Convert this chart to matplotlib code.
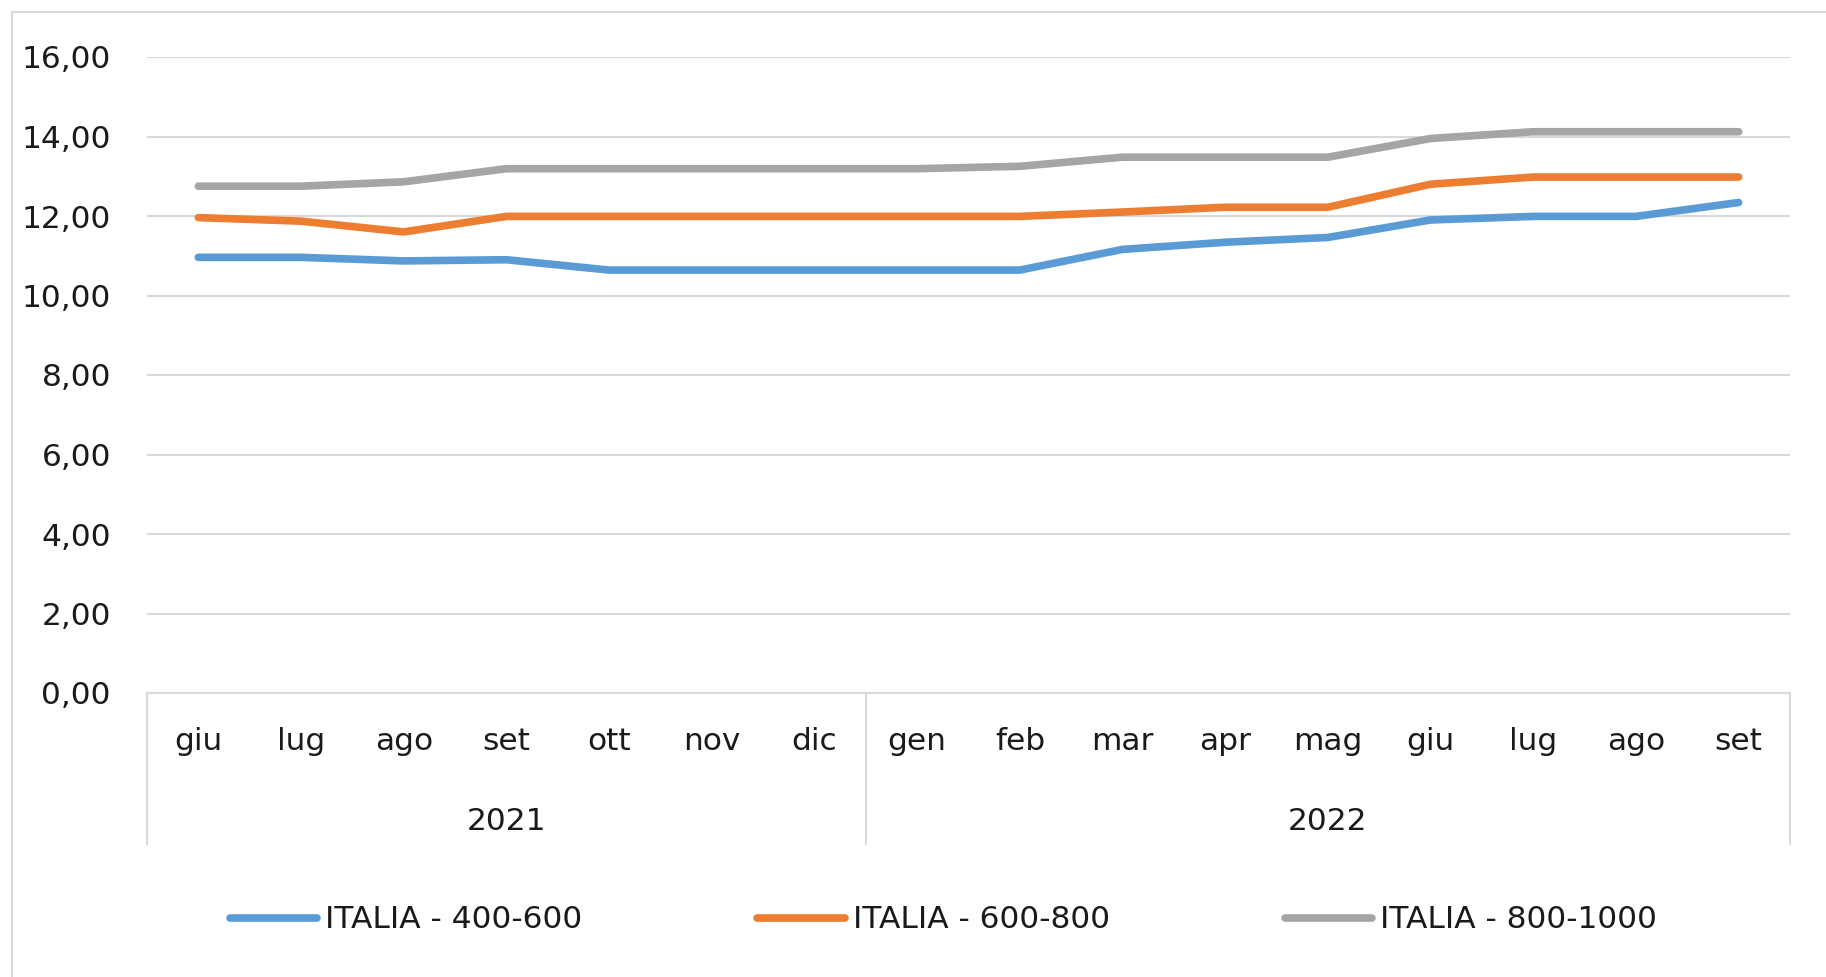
import matplotlib.pyplot as plt
from matplotlib.patches import Rectangle
from matplotlib.ticker import FuncFormatter, MultipleLocator

plt.rcParams['font.family'] = ['DejaVu Sans']

months = ['giu', 'lug', 'ago', 'set', 'ott', 'nov', 'dic',
          'gen', 'feb', 'mar', 'apr', 'mag', 'giu', 'lug', 'ago', 'set']
years = ['2021', '2022']
year_len = [7, 9]

s400 = [10.96, 10.96, 10.87, 10.90, 10.64, 10.64, 10.64, 10.64,
        10.64, 11.16, 11.34, 11.46, 11.90, 11.99, 11.99, 12.34]
s600 = [11.96, 11.87, 11.60, 11.99, 11.99, 11.99, 11.99, 11.99,
        11.99, 12.10, 12.22, 12.22, 12.80, 12.98, 12.98, 12.98]
s800 = [12.75, 12.75, 12.86, 13.19, 13.19, 13.19, 13.19, 13.19,
        13.25, 13.48, 13.48, 13.48, 13.95, 14.12, 14.12, 14.12]

series = [('ITALIA - 400-600', s400, '#5b9bd5'),
          ('ITALIA - 600-800', s600, '#ed7d31'),
          ('ITALIA - 800-1000', s800, '#a5a5a5')]

FS = 22.5
TXT = '#1a1a1a'

W, H = 1826, 977
fig = plt.figure(figsize=(W / 100, H / 100), dpi=100)
# plot area in pixels
left, right, top, bottom = 147, 1790, 57, 693
ax = fig.add_axes([left / W, 1 - bottom / H, (right - left) / W, (bottom - top) / H])

# chart border
fig.patches.append(Rectangle((12 / W, -0.1), 1.2, 1 - 12 / H + 0.1, transform=fig.transFigure,
                             fill=False, edgecolor='#d9d9d9', linewidth=1.5))

x = list(range(len(months)))
for lab, vals, col in series:
    ax.plot(x, vals, color=col, linewidth=5.5, label=lab, solid_capstyle='round')

ax.set_xlim(-0.5, len(months) - 0.5)
ax.set_ylim(0, 16)
ax.yaxis.set_major_locator(MultipleLocator(2))
ax.yaxis.set_major_formatter(FuncFormatter(lambda v, p: f'{v:.2f}'.replace('.', ',')))
ax.grid(axis='y', color='#d9d9d9', linewidth=1.5)
ax.set_axisbelow(True)
for s in ['top', 'right', 'left']:
    ax.spines[s].set_visible(False)
ax.spines['bottom'].set_color('#d9d9d9')
ax.spines['bottom'].set_linewidth(1.5)
ax.tick_params(axis='y', length=0, pad=26, labelsize=FS, labelcolor=TXT)
ax.tick_params(axis='x', length=0, labelbottom=False)

# two-level category axis
tr = ax.get_xaxis_transform()
axh = bottom - top
for i, m in enumerate(months):
    ax.text(i, -(742 - bottom) / axh, m, transform=tr, ha='center', va='center',
            fontsize=FS, color=TXT)
pos = -0.5
seps = [pos]
for yr, n in zip(years, year_len):
    ax.text(pos + n / 2, -(821 - bottom) / axh, yr, transform=tr, ha='center', va='center',
            fontsize=FS, color=TXT)
    pos += n
    seps.append(pos)
for sx in seps:
    ax.plot([sx, sx], [0, -(844 - bottom) / axh], transform=tr, color='#d9d9d9',
            linewidth=1.5, clip_on=False)

fig.legend(loc='center', bbox_to_anchor=(0.5166, 1 - 920 / H), ncol=3, frameon=False,
           fontsize=FS, handlelength=2.8, handletextpad=0.25, columnspacing=5.6,
           labelcolor=TXT)

fig.savefig('out.png', dpi=100)
